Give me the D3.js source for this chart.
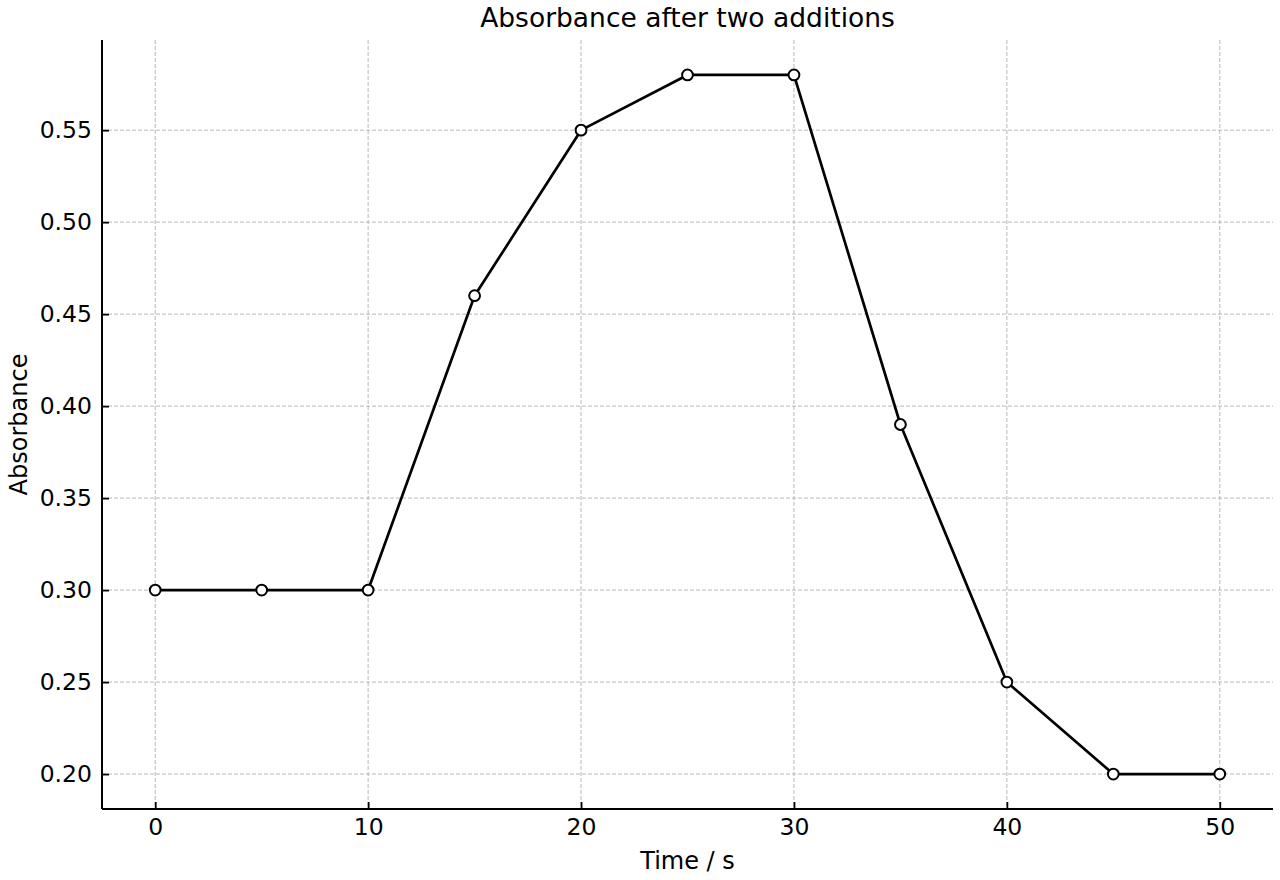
<!DOCTYPE html>
<html><head><meta charset="utf-8">
<script src="https://cdn.jsdelivr.net/npm/d3@7"></script>
<style>body{margin:0;background:#fff}svg{display:block;font-family:"DejaVu Sans",sans-serif}</style>
</head><body><svg id="c" width="1280" height="880"></svg>
<script>
const times = [0,5,10,15,20,25,30,35,40,45,50];
const absorbance = [0.30,0.30,0.30,0.46,0.55,0.58,0.58,0.39,0.25,0.20,0.20];
const xTicks = [0,10,20,30,40,50];
const yTicks = [0.20,0.25,0.30,0.35,0.40,0.45,0.50,0.55];
const title = "Absorbance after two additions";
const xLabel = "Time / s";
const yLabel = "Absorbance";

const svg = d3.select("#c");
const L=102,R=1273,T=40,B=809;
const x = d3.scaleLinear().domain([-2.5,52.5]).range([L,R]);
const y = d3.scaleLinear().domain([0.181,0.599]).range([B,T]);

// grid
const g = svg.append("g");
g.selectAll(".gx").data(xTicks).join("line")
 .attr("x1",d=>x(d)).attr("x2",d=>x(d)).attr("y1",T).attr("y2",B)
 .attr("stroke","#b8b8b8").attr("stroke-width",1).attr("stroke-dasharray","4,2");
g.selectAll(".gy").data(yTicks).join("line")
 .attr("y1",d=>y(d)).attr("y2",d=>y(d)).attr("x1",L).attr("x2",R)
 .attr("stroke","#b8b8b8").attr("stroke-width",1).attr("stroke-dasharray","4,2");

// axes
const xa = svg.append("g").attr("transform",`translate(0,${B})`)
 .call(d3.axisBottom(x).tickValues(xTicks).tickSize(-7).tickPadding(9).tickFormat(d3.format("d")));
const ya = svg.append("g").attr("transform",`translate(${L},0)`)
 .call(d3.axisLeft(y).tickValues(yTicks).tickSize(-7).tickPadding(10).tickFormat(d3.format(".2f")));
[xa,ya].forEach(a=>{
  a.attr("font-size",null).attr("font-family",null);
  a.select(".domain").attr("stroke","#000").attr("stroke-width",2);
  a.selectAll(".tick line").attr("stroke","#000").attr("stroke-width",1.8);
  a.selectAll(".tick text").attr("fill","#000").style("font-size","23.5px").style("font-family","DejaVu Sans");
});
xa.select(".domain").attr("d",`M${L},0H${R}`);
ya.select(".domain").attr("d",`M0,${T}V${B}`);

// line
svg.append("path").datum(times.map((t,i)=>[t,absorbance[i]]))
 .attr("d",d3.line().x(d=>x(d[0])).y(d=>y(d[1])))
 .attr("fill","none").attr("stroke","#000").attr("stroke-width",2.7).attr("stroke-linejoin","round");
svg.selectAll(".pt").data(times).join("circle")
 .attr("cx",d=>x(d)).attr("cy",(d,i)=>y(absorbance[i])).attr("r",5.4)
 .attr("fill","#fff").attr("stroke","#000").attr("stroke-width",2);

svg.append("text").attr("x",(L+R)/2).attr("y",27).attr("text-anchor","middle")
 .style("font-size","26.5px").text(title);
svg.append("text").attr("x",(L+R)/2).attr("y",869).attr("text-anchor","middle")
 .style("font-size","24px").text(xLabel);
svg.append("text").attr("transform",`translate(27,${(T+B)/2}) rotate(-90)`).attr("text-anchor","middle")
 .style("font-size","24px").text(yLabel);
</script></body></html>
